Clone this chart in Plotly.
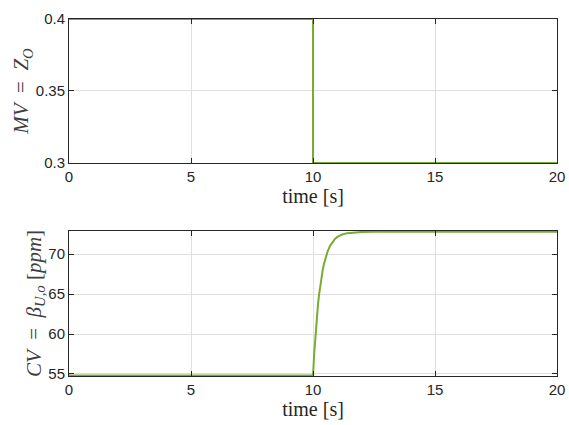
import plotly.graph_objects as go
from plotly.subplots import make_subplots

# Manipulated variable: step on Z_O at t = 10 s
t_mv = [0, 10, 10, 20]
mv = [0.4, 0.4, 0.3, 0.3]

# Controlled variable response (ppm)
t_cv = [0, 10.0, 10.05, 10.1, 10.15, 10.2, 10.25, 10.3, 10.35, 10.4, 10.45, 10.5, 10.6,
        10.7, 10.8, 10.9, 11.0, 11.1, 11.2, 11.4, 11.6, 11.8, 12.0, 12.5, 13.0, 20.0]
cv = [54.8, 54.8, 57.56, 59.9, 61.88, 63.56, 64.98, 66.18, 67.2, 68.05, 68.78, 69.4, 70.36,
      71.05, 71.55, 71.9, 72.16, 72.34, 72.47, 72.63, 72.71, 72.76, 72.78, 72.8, 72.8, 72.8]

x_ticks = [0, 5, 10, 15, 20]
mv_ticks = [0.3, 0.35, 0.4]
cv_ticks = [55, 60, 65, 70]

GREEN = "#77AC30"
TICK_FONT = dict(family="Liberation Sans, Arial, sans-serif", size=15, color="#262626")
SERIF = "Liberation Serif, DejaVu Serif, serif"

fig = make_subplots(rows=2, cols=1)

fig.add_trace(go.Scatter(x=t_mv, y=mv, mode="lines",
                         line=dict(color=GREEN, width=2), showlegend=False), row=1, col=1)
fig.add_trace(go.Scatter(x=t_cv, y=cv, mode="lines",
                         line=dict(color=GREEN, width=2), showlegend=False), row=2, col=1)

axis_common = dict(showline=True, linecolor="#262626", linewidth=1, mirror="ticks",
                   ticks="inside", ticklen=5, tickcolor="#262626",
                   showgrid=True, gridcolor="#dfdfdf", gridwidth=1,
                   zeroline=False, tickfont=TICK_FONT, automargin=False)

xtitle = dict(text="time [s]", font=dict(family=SERIF, size=20, color="#262626"), standoff=0)

fig.update_xaxes(range=[0, 20], tickvals=x_ticks, title=xtitle, **axis_common)
fig.update_yaxes(**axis_common)

fig.update_layout(
    xaxis=dict(domain=[0, 1]),
    xaxis2=dict(domain=[0, 1]),
    yaxis=dict(domain=[0.6165, 0.9553], range=[0.3, 0.4], tickvals=mv_ticks,
               ticktext=["0.3", "0.35", "0.4"],
               title=dict(text="<i>MV</i>  =  <i>Z<sub>O</sub></i>",
                          font=dict(family=SERIF, size=21, color="#404040"), standoff=0)),
    yaxis2=dict(domain=[0.1153, 0.4565], range=[54.75, 72.9], tickvals=cv_ticks,
                title=dict(text="<i>CV</i>  =  <i>β<sub>U,o</sub></i> [<i>ppm</i>]",
                           font=dict(family=SERIF, size=21, color="#404040"), standoff=0)),
    width=569, height=425,
    margin=dict(l=69, r=12, t=0, b=0),
    paper_bgcolor="white", plot_bgcolor="white",
)

fig.write_html("out.html")
